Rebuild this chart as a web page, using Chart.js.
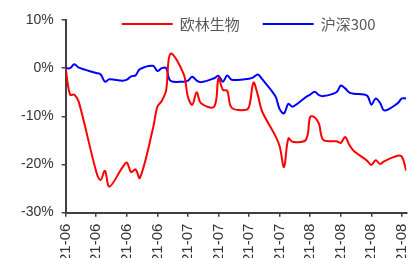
<!DOCTYPE html>
<html>
<head>
<meta charset="utf-8">
<script src="https://cdn.jsdelivr.net/npm/chart.js@4.4.1/dist/chart.umd.min.js"></script>
<style>
  html, body { margin: 0; padding: 0; background: #fff; overflow: hidden; }
  #wrap { width: 427px; height: 270px; }
</style>
</head>
<body>
<div id="wrap"><canvas id="myChart" width="427" height="270"></canvas></div>
<script>
// trading days, 2021-06-08 .. 2021-08-25
const dates = [
    '2021-06-08', '2021-06-09', '2021-06-10', '2021-06-11', '2021-06-15', '2021-06-16', '2021-06-17', '2021-06-18',
    '2021-06-21', '2021-06-22', '2021-06-23', '2021-06-24', '2021-06-25', '2021-06-28', '2021-06-29', '2021-06-30',
    '2021-07-01', '2021-07-02', '2021-07-05', '2021-07-06', '2021-07-07', '2021-07-08', '2021-07-09',
    '2021-07-12', '2021-07-13', '2021-07-14', '2021-07-15', '2021-07-16', '2021-07-19', '2021-07-20', '2021-07-21',
    '2021-07-22', '2021-07-23', '2021-07-26', '2021-07-27', '2021-07-28', '2021-07-29', '2021-07-30',
    '2021-08-02', '2021-08-03', '2021-08-04', '2021-08-05', '2021-08-06', '2021-08-09', '2021-08-10', '2021-08-11',
    '2021-08-12', '2021-08-13', '2021-08-16', '2021-08-17', '2021-08-18', '2021-08-19', '2021-08-20',
    '2021-08-23', '2021-08-24', '2021-08-25'
];

// cumulative return, %
const olinReturns = [
    0, -5.5, -5.5, -7.0, -21.5, -23.2, -21.3, -24.6,
    -20.6, -19.6, -21.6, -21.0, -22.8, -12.5, -8.0, -6.8,
    -4.6, 3.0, -1.2, -6.0, -7.6, -5.0, -7.3,
    -8.0, -2.1, -4.5, -4.7, -8.2, -8.7, -8.0, -3.0,
    -5.6, -9.0, -14.0, -16.2, -20.5, -14.6, -15.3,
    -14.9, -10.1, -10.2, -11.5, -14.9, -15.2, -15.5, -14.3,
    -16.0, -17.2, -19.2, -20.1, -19.1, -19.9, -19.3,
    -18.2, -18.4, -21.3
];
const hs300Returns = [
    0, 0, 0.8, 0.1, -1.0, -1.3, -2.8, -2.3,
    -2.6, -2.4, -1.7, -1.5, -0.2, 0.5, -0.6, 0.0,
    0.0, -2.6, -2.8, -2.6, -1.8, -2.6, -2.9,
    -2.1, -1.6, -2.8, -1.5, -2.4, -2.3, -2.2, -1.9,
    -1.3, -2.3, -5.8, -8.5, -9.4, -7.4, -8.0,
    -6.0, -5.5, -4.9, -5.6, -5.8, -5.0, -3.6, -4.2,
    -5.1, -5.3, -5.7, -7.6, -6.3, -7.2, -8.8,
    -7.3, -6.3, -6.3
];

const seriesNames = ['欧林生物', '沪深300'];
const yTicks = [-30, -20, -10, 0, 10];

const DAY = 86400000;
const startDay = new Date(dates[0] + 'T00:00:00');
function dayOffset(d) {
    return Math.round((new Date(d + 'T00:00:00') - startDay) / DAY);
}
function monthLabel(offset) {
    const d = new Date(startDay.getTime() + offset * DAY);
    return String(d.getFullYear()).slice(2) + '-' + String(d.getMonth() + 1).padStart(2, '0');
}
const lastDay = dayOffset(dates[dates.length - 1]);

const axisColor = '#404040';
const tickFont = { family: "'Liberation Sans', Arial, sans-serif", size: 14 };

// legend drawn inside the plot, over its top edge
const inlineLegend = {
    id: 'inlineLegend',
    afterDraw(chart) {
        const ctx = chart.ctx;
        const area = chart.chartArea;
        let x = area.left + 56;
        const y = area.top + 4;
        ctx.save();
        ctx.font = "15px 'Noto Sans CJK SC', sans-serif";
        ctx.textBaseline = 'middle';
        chart.data.datasets.forEach(ds => {
            ctx.strokeStyle = ds.borderColor;
            ctx.lineWidth = 2;
            ctx.beginPath();
            ctx.moveTo(x, y);
            ctx.lineTo(x + 51, y);
            ctx.stroke();
            x += 58;
            ctx.fillStyle = '#595959';
            ctx.fillText(ds.label, x, y);
            x += ctx.measureText(ds.label).width + 23;
        });
        ctx.restore();
    }
};

const data = {
    datasets: [{
        label: seriesNames[0],
        data: dates.map((d, i) => ({ x: dayOffset(d), y: olinReturns[i] })),
        borderColor: '#ff0000',
        backgroundColor: '#ff0000',
        borderWidth: 2,
        pointRadius: 0,
        tension: 0.35
    }, {
        label: seriesNames[1],
        data: dates.map((d, i) => ({ x: dayOffset(d), y: hs300Returns[i] })),
        borderColor: '#0000ff',
        backgroundColor: '#0000ff',
        borderWidth: 2,
        pointRadius: 0,
        tension: 0.35
    }]
};

const config = {
    type: 'line',
    data,
    options: {
        responsive: false,
        animation: false,
        layout: { padding: { left: 13, right: 7, top: 20, bottom: 1 } },
        plugins: {
            tooltip: { enabled: false },
            legend: { display: false }
        },
        scales: {
            x: {
                type: 'linear',
                min: 0,
                max: lastDay,
                grid: { display: true, drawOnChartArea: false, drawTicks: true, tickLength: 4, color: axisColor, lineWidth: 1.5 },
                border: { display: true, color: axisColor, width: 2 },
                ticks: {
                    stepSize: 7,
                    includeBounds: false,
                    autoSkip: false,
                    minRotation: 90,
                    maxRotation: 90,
                    padding: 7,
                    color: '#333333',
                    font: { family: tickFont.family, size: 15 },
                    callback: (v) => monthLabel(v)
                }
            },
            y: {
                min: yTicks[0],
                max: yTicks[yTicks.length - 1],
                grid: { display: true, drawOnChartArea: false, drawTicks: true, tickLength: 4, color: axisColor, lineWidth: 1.5 },
                border: { display: true, color: axisColor, width: 2 },
                ticks: {
                    stepSize: 10,
                    padding: 8,
                    color: '#333333',
                    font: tickFont,
                    callback: (v) => v + '%'
                }
            }
        }
    },
    plugins: [inlineLegend]
};

new Chart(document.getElementById('myChart'), config);
</script>
</body>
</html>
